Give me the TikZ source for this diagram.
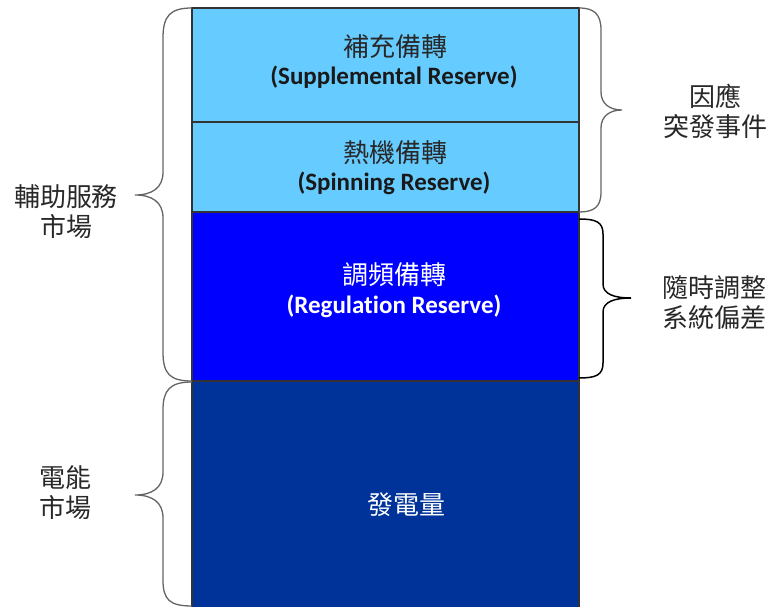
\documentclass[tikz,border=0pt]{standalone}
\usepackage{fontspec}
\setmainfont{Carlito}[Ligatures=NoCommon]
\newfontfamily\cjk{Noto Sans CJK TC}
\definecolor{lightblue}{RGB}{102,204,255}
\definecolor{regblue}{RGB}{0,0,255}
\definecolor{genblue}{RGB}{0,51,153}
\definecolor{bracegray}{RGB}{100,100,100}
\definecolor{txtgray}{RGB}{40,40,40}
\begin{document}
\begin{tikzpicture}[x=1pt,y=-1pt,
  layer/.style={draw=black!80,line width=1.1pt},
  bracegr/.style={draw=bracegray,line width=1.3pt},
  braceblk/.style={draw=black,line width=1.5pt},
  cjkbig/.style={font=\cjk\fontsize{26}{30}\selectfont},
  latin/.style={font=\bfseries\fontsize{25}{28}\selectfont},
  lbl/.style={align=center,inner sep=0pt,text=txtgray,font=\cjk\fontsize{26}{30}\selectfont}
]
\clip (0,0) rectangle (772,607);
% layers
\path[layer,fill=lightblue] (192,8) rectangle (579,122);
\path[layer,fill=lightblue] (192,122) rectangle (579,212);
\path[layer,fill=regblue] (192,212) rectangle (579,381);
\path[layer,fill=genblue] (192,381) rectangle (579,612);
% box texts
\node[inner sep=0pt,text=txtgray,cjkbig] (sup1) at (395,47) {補充備轉};
\node[inner sep=0pt,text=black!90,latin] (sup2) at (394,77) {(Supplemental Reserve)};
\node[inner sep=0pt,text=txtgray,cjkbig] (spin1) at (395,153) {熱機備轉};
\node[inner sep=0pt,text=black!90,latin] (spin2) at (394,183) {(Spinning Reserve)};
\node[inner sep=0pt,text=white,cjkbig] (reg1) at (394,275) {調頻備轉};
\node[inner sep=0pt,text=white,latin] (reg2) at (394,306) {(Regulation Reserve)};
\node[inner sep=0pt,text=white,cjkbig] (gen) at (406,505) {發電量};
% left brace 1
\coordinate (lb1t) at (192,8);
\coordinate (lb1tip) at (135,195);
\coordinate (lb1b) at (192,381);
\draw[bracegr] (lb1t) .. controls (170,8) and (163,16) .. (163,38) -- (163,172)
  .. controls (163,188) and (152,195) .. (lb1tip)
  .. controls (152,195) and (163,202) .. (163,218) -- (163,352)
  .. controls (163,374) and (170,381) .. (lb1b);
% left brace 2
\coordinate (lb2t) at (192,382);
\coordinate (lb2tip) at (135,495);
\coordinate (lb2b) at (192,606);
\draw[bracegr] (lb2t) .. controls (170,382) and (163,390) .. (163,410) -- (163,472)
  .. controls (163,488) and (152,495) .. (lb2tip)
  .. controls (152,495) and (163,502) .. (163,518) -- (163,580)
  .. controls (163,600) and (170,606) .. (lb2b);
% right brace 1
\coordinate (rb1t) at (579,8);
\coordinate (rb1tip) at (622,110);
\coordinate (rb1b) at (579,212);
\draw[bracegr] (rb1t) .. controls (594,8) and (601,14) .. (601,30) -- (601,92)
  .. controls (601,104) and (610,110) .. (rb1tip)
  .. controls (610,110) and (601,116) .. (601,128) -- (601,192)
  .. controls (601,207) and (594,212) .. (rb1b);
% right brace 2
\coordinate (rb2t) at (579,219);
\coordinate (rb2tip) at (631,298);
\coordinate (rb2b) at (579,378);
\draw[braceblk] (rb2t) .. controls (596,219) and (603,222) .. (603,234) -- (603,284)
  .. controls (603,294) and (614,298) .. (rb2tip)
  .. controls (614,298) and (603,302) .. (603,312) -- (603,363)
  .. controls (603,375) and (596,378) .. (rb2b);
% side labels
\node[lbl] (anc) at (66,212) {輔助服務\\市場};
\node[lbl] (elec) at (65,493) {電能\\市場};
\node[lbl] (cont) at (715,111) {因應\\突發事件};
\node[lbl] (adj) at (714,303) {隨時調整\\系統偏差};
\end{tikzpicture}
\end{document}
